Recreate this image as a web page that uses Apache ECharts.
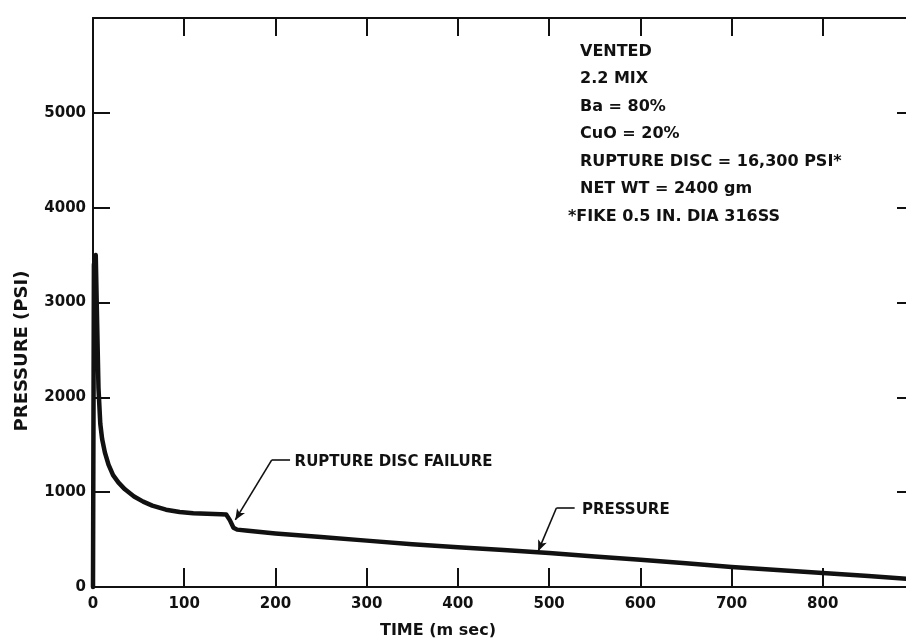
<!DOCTYPE html>
<html>
<head>
<meta charset="utf-8">
<script src="https://cdn.jsdelivr.net/npm/echarts@6/dist/echarts.min.js"></script>
<style>
html,body{margin:0;padding:0;background:#fff;}
#chart{width:906px;height:640px;}
</style>
</head>
<body>
<div id="chart"></div>
<script>
// ---- data ----
const timeMs = [0, 1, 3, 6, 8, 10, 13, 17, 22, 28, 35, 45, 55, 65, 80, 95, 110, 125, 140, 146, 150, 154, 158, 170, 200, 250, 300, 350, 400, 450, 500, 550, 600, 650, 700, 750, 800, 850, 900];
const pressurePsi = [0, 3400, 3500, 2100, 1720, 1560, 1420, 1290, 1180, 1100, 1030, 955, 900, 858, 815, 790, 778, 772, 768, 765, 705, 625, 605, 592, 565, 527, 489, 452, 420, 390, 358, 322, 288, 250, 212, 180, 148, 115, 80];
const xTickLabels = [0, 100, 200, 300, 400, 500, 600, 700, 800];
const yTickLabels = [0, 1000, 2000, 3000, 4000, 5000];
const noteLines = ['VENTED', '2.2 MIX', 'Ba = 80%', 'CuO = 20%', 'RUPTURE DISC = 16,300 PSI*', 'NET WT = 2400 gm'];
const footNote = '*FIKE 0.5 IN. DIA 316SS';
const annoText = ['RUPTURE DISC FAILURE', 'PRESSURE'];
const annoTextAt = [[221, 1320], [536, 812]];
const annoElbow = [[[216, 1340], [196, 1340]], [[528, 833], [508, 833]]];
const annoTip = [[156, 707], [488, 378]];

const FONT = 'DejaVu Sans';
const INK = '#111';

const chart = echarts.init(document.getElementById('chart'), null, {renderer: 'canvas'});

const curve = timeMs.map((t, i) => [t, pressurePsi[i]]);

const leaderLines = [];
annoElbow.forEach((seg, i) => {
  leaderLines.push([{coord: seg[0], symbol: 'none'}, {coord: seg[1], symbol: 'none'}]);
  leaderLines.push([{coord: seg[1], symbol: 'none'}, {coord: annoTip[i], symbol: 'arrow', symbolSize: [7, 11]}]);
});

const option = {
  backgroundColor: '#fff',
  animation: false,
  grid: {left: 93, top: 18, width: 821, height: 569, containLabel: false, outerBoundsMode: 'none'},
  xAxis: [{
    type: 'value', min: 0, max: 900, interval: 100, position: 'bottom',
    axisLine: {show: true, onZero: false, lineStyle: {color: INK, width: 2}},
    axisTick: {show: true, inside: true, length: 19, lineStyle: {color: INK, width: 2}},
    splitLine: {show: false},
    axisLabel: {
      show: true, margin: 10, color: INK, fontFamily: FONT, fontWeight: 'bold', fontSize: 15,
      formatter: v => xTickLabels.includes(v) ? String(v) : ''
    }
  }, {
    type: 'value', min: 0, max: 900, interval: 100, position: 'top',
    axisLine: {show: true, onZero: false, lineStyle: {color: INK, width: 2}},
    axisTick: {show: true, inside: true, length: 18, lineStyle: {color: INK, width: 2}},
    splitLine: {show: false},
    axisLabel: {show: false}
  }],
  yAxis: [{
    type: 'value', min: 0, max: 6000, interval: 1000, position: 'left',
    axisLine: {show: true, onZero: false, lineStyle: {color: INK, width: 2}},
    axisTick: {show: true, inside: true, length: 17, lineStyle: {color: INK, width: 2}},
    splitLine: {show: false},
    axisLabel: {
      show: true, margin: 7, color: INK, fontFamily: FONT, fontWeight: 'bold', fontSize: 15,
      formatter: v => yTickLabels.includes(v) ? String(v) : ''
    }
  }, {
    type: 'value', min: 0, max: 6000, interval: 1000, position: 'right',
    axisLine: {show: true, onZero: false, lineStyle: {color: INK, width: 2}},
    axisTick: {show: true, inside: true, length: 17, lineStyle: {color: INK, width: 2}},
    splitLine: {show: false},
    axisLabel: {show: false}
  }],
  series: [{
    name: 'PRESSURE', type: 'line', data: curve, showSymbol: false, symbol: 'none',
    clip: false, smooth: false,
    lineStyle: {color: INK, width: 4.5, join: 'round', cap: 'round'},
    z: 3
  }, {
    name: 'leaders', type: 'line', data: [], showSymbol: false,
    markLine: {
      silent: true, animation: false,
      symbol: ['none', 'none'],
      lineStyle: {color: INK, width: 1.6, type: 'solid'},
      label: {show: false},
      data: leaderLines
    }
  }, {
    name: 'notes', type: 'scatter', symbolSize: 0,
    itemStyle: {opacity: 1},
    data: annoTextAt.map((p, i) => [p[0], p[1], annoText[i]]),
    label: {
      show: true, position: 'right', distance: 0, opacity: 1,
      color: INK, fontFamily: FONT, fontWeight: 'bold', fontSize: 15,
      formatter: p => p.data[2]
    }
  }],
  graphic: [{
    type: 'text', left: 580, top: 38,
    style: {
      text: noteLines.join('\n'), fill: INK, font: 'bold 16px "DejaVu Sans"',
      lineHeight: 27.5
    }
  }, {
    type: 'text', left: 568, top: 38 + 6 * 27.5,
    style: {
      text: footNote, fill: INK, font: 'bold 16px "DejaVu Sans"', lineHeight: 27.5
    }
  }, {
    type: 'text', x: 22, y: 351, rotation: Math.PI / 2,
    style: {
      text: 'PRESSURE (PSI)', fill: INK, font: 'bold 18px "DejaVu Sans"',
      align: 'center', verticalAlign: 'middle'
    }
  }, {
    type: 'text', x: 438, y: 631,
    style: {
      text: 'TIME (m sec)', fill: INK, font: 'bold 16px "DejaVu Sans"',
      align: 'center', verticalAlign: 'middle'
    }
  }]
};
chart.setOption(option);
</script>
</body>
</html>
